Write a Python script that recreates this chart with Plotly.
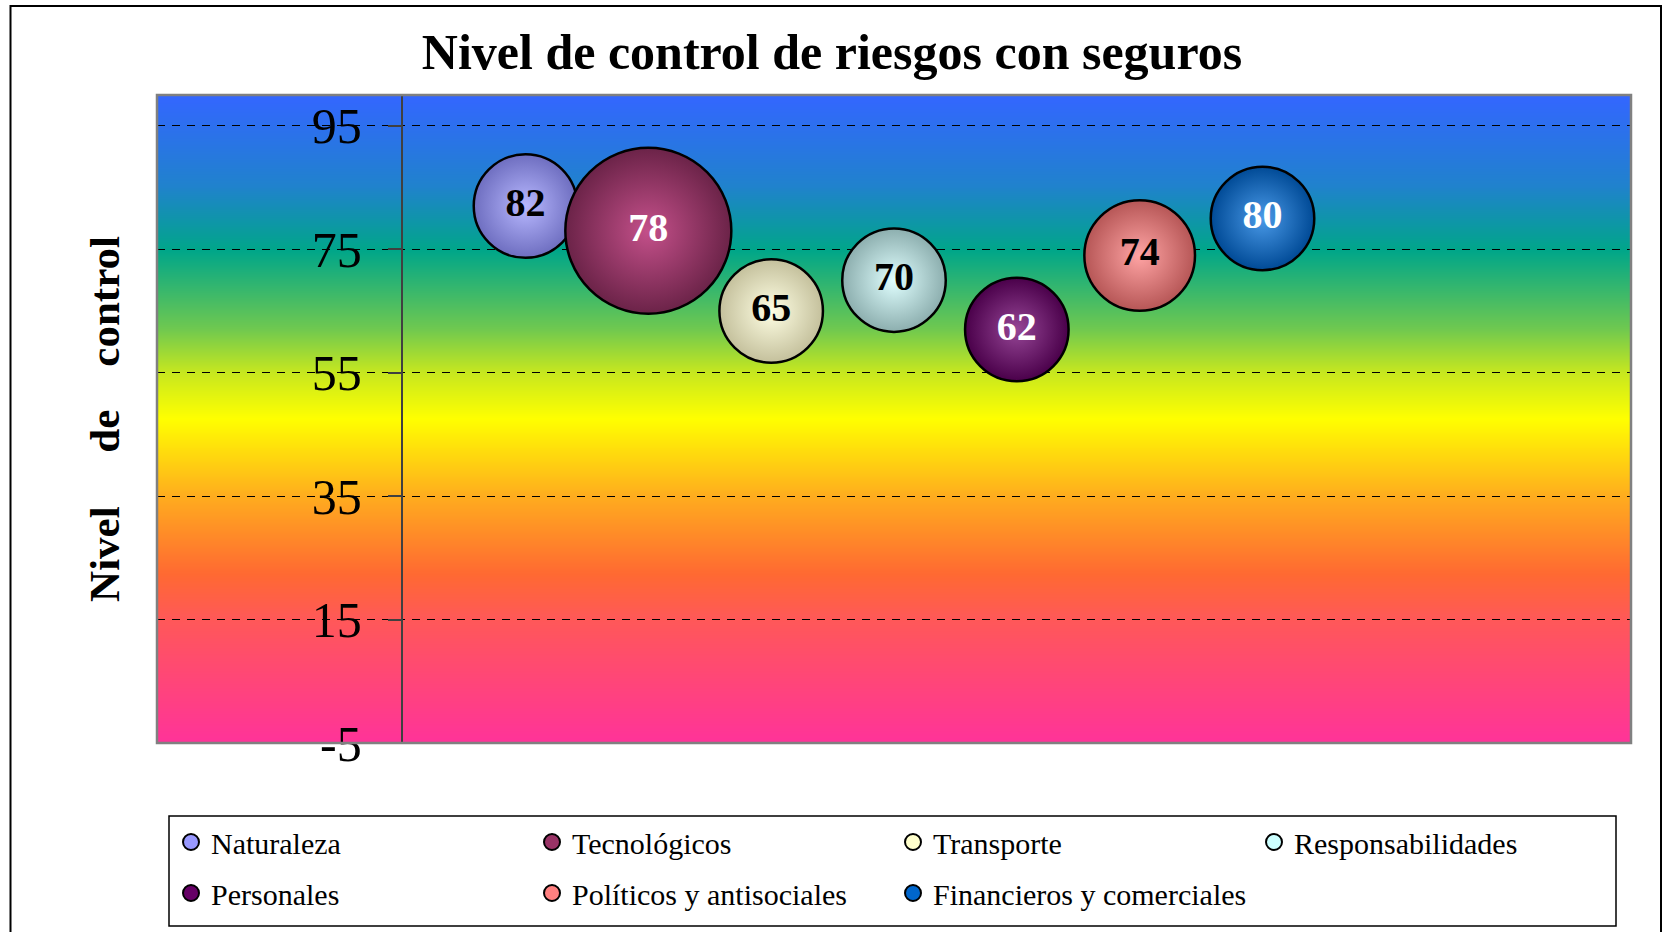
import base64
import struct
import zlib
import plotly.graph_objects as go

# ---------------- data ----------------
categorias = ["Naturaleza", "Tecnológicos", "Transporte", "Responsabilidades",
              "Personales", "Políticos y antisociales", "Financieros y comerciales"]
nivel_control = [82, 78, 65, 70, 62, 74, 80]
tamano_burbuja = [7, 18, 7, 7, 7, 8, 7]
y_ticks = [-5, 15, 35, 55, 75, 95]

# ---------------- styles ----------------
colores_leyenda = ["#9999FF", "#993366", "#FFFFCC", "#CCFFFF", "#660066", "#FF8080", "#0066CC"]
colores_borde = ["#6E6EC0", "#6B2348", "#C4C09C", "#8CAEAE", "#4A004A", "#B65656", "#004A96"]
colores_centro = ["#B8B8FF", "#C4508A", "#FFFFE4", "#E0FFFF", "#964696", "#FFA4A4", "#4A9AE8"]
colores_texto = ["black", "white", "black", "black", "white", "black", "white"]

W, H = 1664, 932
ML, MR, MT, MB = 157, 33, 95, 189
PW, PH = W - ML - MR, H - MT - MB
SERIF = "Liberation Serif"


def px_x(px):
    return (px - ML) / PW


def px_y(py):
    return (H - MB - py) / PH


# vertical rainbow gradient for the plot background (pure styling)
stops = [(0.00, (51, 102, 255)), (0.14, (32, 130, 205)), (0.24, (0, 166, 137)),
         (0.36, (110, 200, 80)), (0.43, (200, 232, 30)), (0.50, (255, 255, 0)),
         (0.62, (255, 172, 30)), (0.74, (255, 105, 50)), (0.81, (255, 88, 88)),
         (1.00, (255, 51, 153))]


def grad_color(t):
    for (t0, c0), (t1, c1) in zip(stops[:-1], stops[1:]):
        if t0 <= t <= t1:
            f = (t - t0) / (t1 - t0) if t1 > t0 else 0
            return tuple(int(round(a + (b - a) * f)) for a, b in zip(c0, c1))
    return stops[-1][1]


def make_png(rows, width=4):
    raw = b"".join(b"\x00" + bytes(c) * width for c in rows)

    def chunk(tag, data):
        return (struct.pack(">I", len(data)) + tag + data +
                struct.pack(">I", zlib.crc32(tag + data) & 0xFFFFFFFF))

    ihdr = struct.pack(">IIBBBBB", width, len(rows), 8, 2, 0, 0, 0)
    return (b"\x89PNG\r\n\x1a\n" + chunk(b"IHDR", ihdr) +
            chunk(b"IDAT", zlib.compress(raw, 9)) + chunk(b"IEND", b""))


rows = [grad_color(i / (PH - 1)) for i in range(PH)]
bg_uri = "data:image/png;base64," + base64.b64encode(make_png(rows)).decode()

sizeref = 2.0 * max(tamano_burbuja) / (166 ** 2)

fig = go.Figure()

for i, nombre in enumerate(categorias):
    fig.add_trace(go.Scatter(
        x=[i + 1], y=[nivel_control[i]],
        mode="markers+text",
        text=[str(nivel_control[i])],
        textposition="middle center",
        textfont=dict(family=SERIF, size=40, color=colores_texto[i], weight="bold"),
        marker=dict(size=[tamano_burbuja[i]], sizemode="area", sizeref=sizeref,
                    color=colores_borde[i],
                    gradient=dict(type="radial", color=colores_centro[i]),
                    line=dict(color="black", width=2.5), opacity=1),
        name=nombre, showlegend=False, hoverinfo="name+y",
    ))

# legend entries (flat colours as in the original legend)
for i, nombre in enumerate(categorias):
    fig.add_trace(go.Scatter(
        x=[None], y=[None], mode="markers", name=nombre,
        marker=dict(size=16, color=colores_leyenda[i], line=dict(color="black", width=2)),
        legend="legend" if i < 4 else "legend2", showlegend=True,
    ))

legend_common = dict(orientation="h", entrywidth=316, entrywidthmode="pixels",
                     font=dict(family=SERIF, size=30, color="black"),
                     bgcolor="rgba(0,0,0,0)", borderwidth=0,
                     xanchor="left", yanchor="middle", x=px_x(171),
                     itemclick=False, itemdoubleclick=False)

fig.update_layout(
    width=W, height=H,
    margin=dict(l=ML, r=MR, t=MT, b=MB, autoexpand=False),
    paper_bgcolor="white", plot_bgcolor="rgba(0,0,0,0)",
    title=dict(text="Nivel de control de riesgos con seguros",
               font=dict(family=SERIF, size=50, color="black", weight="bold"),
               x=0.5, xanchor="center", xref="container",
               y=1 - 51 / H, yanchor="middle", yref="container"),
    xaxis=dict(range=[-2, 10], showgrid=False, zeroline=False, showline=False,
               showticklabels=False, ticks=""),
    yaxis=dict(range=[-5, 100], tickvals=y_ticks, ticktext=[str(v) for v in y_ticks],
               anchor="free", position=px_x(401.5),
               showline=True, linecolor="#404040", linewidth=1.5,
               ticks="outside", ticklen=13, tickcolor="#404040", tickwidth=1.5,
               ticklabelstandoff=16,
               tickfont=dict(family=SERIF, size=50, color="black"),
               showgrid=True, gridcolor="black", gridwidth=1, griddash="8px,7px",
               zeroline=False,
               title=dict(text="Nivel\u00a0\u00a0\u00a0\u00a0\u00a0de\u00a0\u00a0\u00a0\u00a0control",
                          font=dict(family=SERIF, size=43, color="black", weight="bold"),
                          standoff=178)),
    legend=dict(y=px_y(842), **legend_common),
    legend2=dict(y=px_y(893), **legend_common),
    images=[dict(source=bg_uri, xref="paper", yref="paper", x=0, y=1,
                 sizex=1, sizey=1, xanchor="left", yanchor="top",
                 sizing="stretch", layer="below")],
    shapes=[
        # plot area frame
        dict(type="rect", xref="paper", yref="paper", x0=0, x1=1, y0=0, y1=1,
             line=dict(color="#808080", width=2.5), layer="above"),
        # legend frame
        dict(type="rect", xref="paper", yref="paper",
             x0=px_x(169), x1=px_x(1616), y0=px_y(926), y1=px_y(816),
             line=dict(color="black", width=1.5), fillcolor="rgba(0,0,0,0)"),
        # outer chart frame
        dict(type="rect", xref="paper", yref="paper",
             x0=px_x(10.5), x1=px_x(1661), y0=px_y(960), y1=px_y(6),
             line=dict(color="black", width=2), fillcolor="rgba(0,0,0,0)"),
    ],
    showlegend=True,
)

fig.write_html(
    "out.html",
    config={"displayModeBar": False},
    post_script="document.body.style.margin='0';document.body.style.overflow='hidden';",
)
